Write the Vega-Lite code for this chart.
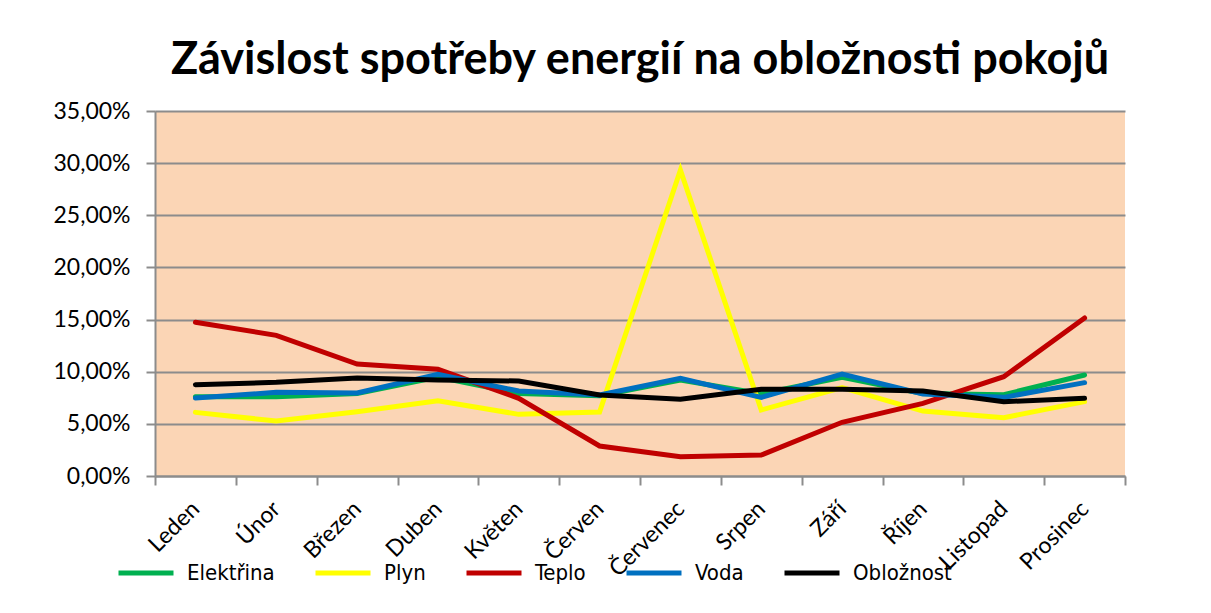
{
  "$schema": "https://vega.github.io/schema/vega-lite/v6.json",
  "width": 970,
  "height": 365,
  "autosize": "none",
  "padding": {"left": 155, "top": 111, "right": 86, "bottom": 137},
  "background": "#ffffff",
  "title": {
    "text": "Závislost spotřeby energií na obložnosti pokojů",
    "font": "Lato",
    "fontSize": 45,
    "fontWeight": "bold",
    "color": "#000000",
    "anchor": "middle",
    "offset": 17
  },
  "data": {
    "values": [
      {"mesic": "Leden", "rada": "Elektřina", "hodnota": 7.6},
      {"mesic": "Únor", "rada": "Elektřina", "hodnota": 7.6},
      {"mesic": "Březen", "rada": "Elektřina", "hodnota": 7.9},
      {"mesic": "Duben", "rada": "Elektřina", "hodnota": 9.5},
      {"mesic": "Květen", "rada": "Elektřina", "hodnota": 7.9},
      {"mesic": "Červen", "rada": "Elektřina", "hodnota": 7.7},
      {"mesic": "Červenec", "rada": "Elektřina", "hodnota": 9.2},
      {"mesic": "Srpen", "rada": "Elektřina", "hodnota": 7.9},
      {"mesic": "Září", "rada": "Elektřina", "hodnota": 9.46},
      {"mesic": "Říjen", "rada": "Elektřina", "hodnota": 7.9},
      {"mesic": "Listopad", "rada": "Elektřina", "hodnota": 7.8},
      {"mesic": "Prosinec", "rada": "Elektřina", "hodnota": 9.68},

      {"mesic": "Leden", "rada": "Plyn", "hodnota": 6.1},
      {"mesic": "Únor", "rada": "Plyn", "hodnota": 5.27},
      {"mesic": "Březen", "rada": "Plyn", "hodnota": 6.17},
      {"mesic": "Duben", "rada": "Plyn", "hodnota": 7.22},
      {"mesic": "Květen", "rada": "Plyn", "hodnota": 5.91},
      {"mesic": "Červen", "rada": "Plyn", "hodnota": 6.14},
      {"mesic": "Červenec", "rada": "Plyn", "hodnota": 29.34},
      {"mesic": "Srpen", "rada": "Plyn", "hodnota": 6.33},
      {"mesic": "Září", "rada": "Plyn", "hodnota": 8.47},
      {"mesic": "Říjen", "rada": "Plyn", "hodnota": 6.23},
      {"mesic": "Listopad", "rada": "Plyn", "hodnota": 5.59},
      {"mesic": "Prosinec", "rada": "Plyn", "hodnota": 7.13},

      {"mesic": "Leden", "rada": "Teplo", "hodnota": 14.74},
      {"mesic": "Únor", "rada": "Teplo", "hodnota": 13.49},
      {"mesic": "Březen", "rada": "Teplo", "hodnota": 10.74},
      {"mesic": "Duben", "rada": "Teplo", "hodnota": 10.23},
      {"mesic": "Květen", "rada": "Teplo", "hodnota": 7.45},
      {"mesic": "Červen", "rada": "Teplo", "hodnota": 2.88},
      {"mesic": "Červenec", "rada": "Teplo", "hodnota": 1.85},
      {"mesic": "Srpen", "rada": "Teplo", "hodnota": 2.01},
      {"mesic": "Září", "rada": "Teplo", "hodnota": 5.15},
      {"mesic": "Říjen", "rada": "Teplo", "hodnota": 6.97},
      {"mesic": "Listopad", "rada": "Teplo", "hodnota": 9.52},
      {"mesic": "Prosinec", "rada": "Teplo", "hodnota": 15.15},

      {"mesic": "Leden", "rada": "Voda", "hodnota": 7.48},
      {"mesic": "Únor", "rada": "Voda", "hodnota": 8.02},
      {"mesic": "Březen", "rada": "Voda", "hodnota": 7.96},
      {"mesic": "Duben", "rada": "Voda", "hodnota": 9.75},
      {"mesic": "Květen", "rada": "Voda", "hodnota": 8.15},
      {"mesic": "Červen", "rada": "Voda", "hodnota": 7.77},
      {"mesic": "Červenec", "rada": "Voda", "hodnota": 9.37},
      {"mesic": "Srpen", "rada": "Voda", "hodnota": 7.54},
      {"mesic": "Září", "rada": "Voda", "hodnota": 9.78},
      {"mesic": "Říjen", "rada": "Voda", "hodnota": 7.86},
      {"mesic": "Listopad", "rada": "Voda", "hodnota": 7.54},
      {"mesic": "Prosinec", "rada": "Voda", "hodnota": 8.95},

      {"mesic": "Leden", "rada": "Obložnost", "hodnota": 8.76},
      {"mesic": "Únor", "rada": "Obložnost", "hodnota": 8.98},
      {"mesic": "Březen", "rada": "Obložnost", "hodnota": 9.4},
      {"mesic": "Duben", "rada": "Obložnost", "hodnota": 9.21},
      {"mesic": "Květen", "rada": "Obložnost", "hodnota": 9.11},
      {"mesic": "Červen", "rada": "Obložnost", "hodnota": 7.77},
      {"mesic": "Červenec", "rada": "Obložnost", "hodnota": 7.35},
      {"mesic": "Srpen", "rada": "Obložnost", "hodnota": 8.31},
      {"mesic": "Září", "rada": "Obložnost", "hodnota": 8.31},
      {"mesic": "Říjen", "rada": "Obložnost", "hodnota": 8.15},
      {"mesic": "Listopad", "rada": "Obložnost", "hodnota": 7.13},
      {"mesic": "Prosinec", "rada": "Obložnost", "hodnota": 7.45}
    ]
  },
  "mark": {"type": "line", "strokeWidth": 5, "strokeCap": "round", "strokeJoin": "miter"},
  "encoding": {
    "x": {
      "field": "mesic",
      "type": "nominal",
      "sort": ["Leden", "Únor", "Březen", "Duben", "Květen", "Červen", "Červenec", "Srpen", "Září", "Říjen", "Listopad", "Prosinec"],
      "scale": {"paddingInner": 0, "paddingOuter": 0},
      "axis": {
        "title": null,
        "labelAngle": -45,
        "labelAlign": "right",
        "labelBaseline": "middle",
        "labelFont": "Lato",
        "labelFontSize": 23,
        "labelColor": "#000000",
        "labelPadding": 20,
        "labelOverlap": false,
        "tickBand": "extent",
        "tickSize": 9,
        "tickColor": "#8c8c8c",
        "tickWidth": 2,
        "domainColor": "#8c8c8c",
        "domainWidth": 2,
        "grid": false
      }
    },
    "y": {
      "field": "hodnota",
      "type": "quantitative",
      "scale": {"domain": [0, 35], "nice": false},
      "axis": {
        "title": null,
        "values": [0, 5, 10, 15, 20, 25, 30, 35],
        "labelExpr": "replace(format(datum.value, '.2f'), '.', ',') + '%'",
        "labelFont": "Lato",
        "labelFontSize": 23,
        "labelColor": "#000000",
        "labelPadding": 16,
        "tickSize": 9,
        "tickColor": "#8c8c8c",
        "tickWidth": 2,
        "domainColor": "#8c8c8c",
        "domainWidth": 2,
        "grid": true,
        "gridColor": "#8c8c8c",
        "gridWidth": 2,
        "gridOpacity": 1
      }
    },
    "color": {
      "field": "rada",
      "type": "nominal",
      "sort": ["Elektřina", "Plyn", "Teplo", "Voda", "Obložnost"],
      "scale": {
        "domain": ["Elektřina", "Plyn", "Teplo", "Voda", "Obložnost"],
        "range": ["#00B050", "#FFFF00", "#C00000", "#0070C0", "#000000"]
      },
      "legend": {
        "title": null,
        "orient": "none",
        "direction": "horizontal",
        "columns": 5,
        "legendX": -39,
        "legendY": 432,
        "symbolType": "stroke",
        "symbolSize": 3025,
        "symbolStrokeWidth": 5,
        "labelFont": "DejaVu Sans Condensed",
        "labelFontSize": 22,
        "labelColor": "#000000",
        "labelOffset": 11,
        "columnPadding": 30,
        "labelLimit": 200
      }
    },
    "order": {"field": "rada"}
  },
  "config": {
    "view": {"fill": "#FBD5B5", "stroke": null}
  }
}
